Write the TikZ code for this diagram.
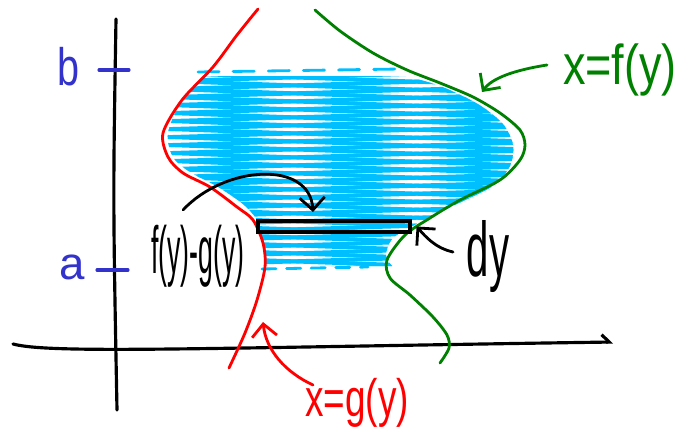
\documentclass[tikz,border=0pt]{standalone}
\usepackage{fontspec}
\setmainfont{Liberation Sans}
\usetikzlibrary{arrows.meta,positioning}
\definecolor{curveRed}{RGB}{255,0,0}
\definecolor{curveGreen}{RGB}{0,128,0}
\definecolor{scribbleBlue}{RGB}{0,191,255}
\definecolor{tickBlue}{RGB}{51,51,204}
\tikzset{
  axis/.style={line width=1.8pt, line cap=round},
  curve/.style={line width=1.6pt, line cap=round},
  pointer/.style={line width=1.6pt, line cap=round,
                  -{Straight Barb[length=2.5mm, width=5mm, line width=1.6pt]}},
  scribble/.style={scribbleBlue, line width=2.3pt, line cap=round},
  hand/.style={inner sep=0pt, font=\fontsize{26}{28}\selectfont}
}

\begin{document}
\begin{tikzpicture}[x=0.02cm, y=-0.02cm]
  \useasboundingbox (0,0) rectangle (694,436);

  % region between the curves
  \begin{scope}
    \clip plot[smooth] coordinates {(205,76) (182,100) (168,133) (173,157) (190,172)
        (218,187) (244,205) (258,222) (263,245) (265,266)}
      -- plot[smooth] coordinates {(392,266) (386,255) (393,238) (420,222) (455,205)
        (493,186) (510,166) (513,145) (503,124) (478,104) (440,86) (405,76)} -- cycle;
    \foreach \y in {56,64,...,280} {
      \draw[scribble] (140,\y) -- (540,\y+14);
      \draw[scribble] (140,\y+10) -- (540,\y-2);
    }
  \end{scope}
  \draw[scribble, line width=1.6pt, dash pattern=on 12pt off 8pt] (198,72) -- (400,69);
  \draw[scribble, line width=1.6pt, dash pattern=on 8pt off 6pt] (262,269) -- (368,267);

  % axes
  \coordinate (yTop) at (116,19);
  \coordinate (yBot) at (117,410);
  \coordinate (xLeft) at (13,344);
  \coordinate (xRight) at (613,342);
  \draw[axis] (yTop) .. controls (113,200) .. (yBot);
  \draw[axis, -{Straight Barb[left, length=1.5mm, width=3mm, line width=1.8pt]}]
    (xLeft) .. controls (50,354) and (200,348) .. (xRight);

  % ticks
  \draw[axis, tickBlue] (99,70) -- (129,70);
  \draw[axis, tickBlue] (97,270) -- (128,270);
  \node[hand, text=tickBlue, font=\fontsize{30}{32}\selectfont] (bLabel) at (68,67)
    {\scalebox{0.75}[1]{b}};
  \node[hand, text=tickBlue, font=\fontsize{26}{28}\selectfont] (aLabel) at (72,267) {a};

  % the two curves
  \draw[curve, curveRed] plot[smooth] coordinates {(258,9) (237,35) (213,67) (182,100)
    (163,133) (168,157) (183,173) (210,187) (237,207) (253,220) (263,243) (265,267)
    (257,300) (245,333) (229,368)};
  \draw[curve, curveGreen] plot[smooth] coordinates {(315,10) (340,31) (373,53) (407,70)
    (440,83) (473,97) (500,113) (520,130) (525,145) (520,160) (500,180) (460,200)
    (430,218) (405,235) (387,260) (390,278) (410,295) (433,317) (447,335) (449,348)
    (440,363)};

  % strip of height dy
  \node[draw, line width=1.8pt, inner sep=0pt, minimum width=3.04cm,
        minimum height=0.22cm] (strip) at (334,226.5) {};

  % labels
  \node[hand, text=curveGreen, font=\fontsize{32}{34}\selectfont] (fLabel) at (620,70)
    {\scalebox{0.8}[1]{x=f(y)}};
  \node[hand, text=curveRed, font=\fontsize{30}{32}\selectfont] (gLabel) at (357,403)
    {\scalebox{0.7}[1]{x=g(y)}};
  \node[hand, font=\fontsize{38}{40}\selectfont] (diffLabel) at (198,256)
    {\scalebox{0.4}[1]{f(y)-g(y)}};
  \node[hand, font=\fontsize{44}{46}\selectfont] (dyLabel) at (488,257)
    {\scalebox{0.52}[1]{dy}};

  % pointers
  \coordinate (diffTail) at (183,210);
  \coordinate (stripMark) at (313,212);
  \coordinate (dyTail) at (453,252);
  \coordinate (fTail) at (547,65);
  \coordinate (fTip) at (482,92);
  \coordinate (gTail) at (313,385);
  \coordinate (gTip) at (263,322);
  \draw[pointer] (diffTail) .. controls (225,165) and (310,160) .. (stripMark);
  \draw[pointer] (dyTail) .. controls (435,248) and (425,236) .. ([xshift=0.1cm]strip.east);
  \draw[pointer, curveGreen] (fTail) .. controls (515,70) and (492,78) .. (fTip);
  \draw[pointer, curveRed] (gTail) .. controls (285,372) and (266,350) .. (gTip);
\end{tikzpicture}
\end{document}
